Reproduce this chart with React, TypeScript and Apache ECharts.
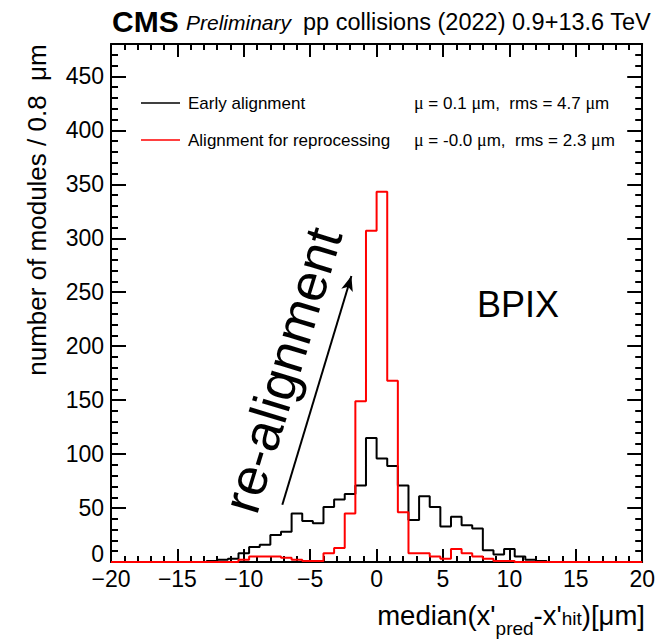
import React, { useEffect, useRef } from "react";
import * as echarts from "echarts";

const BIN_MIN = -20;
const BIN_WIDTH = 0.8;
const X_TICKS = [-20, -15, -10, -5, 0, 5, 10, 15, 20];
const Y_TICKS = [0, 50, 100, 150, 200, 250, 300, 350, 400, 450];

const earlyAlignment = [
  0, 0, 0, 0, 0, 0, 0, 0, 0, 1,
  2, 3, 8, 14, 16, 25, 28, 45, 38, 36,
  51, 58, 63, 71, 115, 96, 89, 71, 39, 61,
  51, 33, 42, 34, 31, 11, 7, 12, 5, 2,
  1, 0, 0, 0, 0, 0, 0, 0, 0, 0,
];
const reprocessing = [
  0, 0, 0, 0, 0, 0, 0, 0, 0, 0,
  0, 0, 2, 5, 5, 5, 4, 2, 1, 1,
  8, 13, 45, 149, 307, 343, 168, 46, 8, 8,
  5, 3, 12, 8, 5, 3, 1, 1, 0, 0,
  0, 0, 0, 0, 0, 0, 0, 0, 0, 0,
];
const arrowStart = [-7.1, 53];
const arrowEnd = [-1.9, 265];

const FONT = "'Liberation Sans', Arial, Helvetica, sans-serif";
const SERIF = "'Liberation Serif', 'DejaVu Serif', serif";

function toSteps(values: number[]) {
  const pts: [number, number][] = values.map((v, k) => [BIN_MIN + BIN_WIDTH * k, v]);
  pts.push([BIN_MIN + BIN_WIDTH * values.length, values[values.length - 1]]);
  return pts;
}

export default function App() {
  const ref = useRef<HTMLDivElement>(null);
  useEffect(() => {
    if (!ref.current) return;
    const chart = echarts.init(ref.current, null, { renderer: "svg" });
    const axisCommon = {
      axisLine: { show: true, onZero: false, lineStyle: { color: "#000", width: 2 } },
      splitLine: { show: false },
    };
    const xMin = X_TICKS[0];
    const xMax = X_TICKS[X_TICKS.length - 1];
    const mu = { fontFamily: SERIF, fontSize: 18 };
    chart.setOption({
      animation: false,
      backgroundColor: "#fff",
      grid: { left: 111, right: 14, top: 44, bottom: 79, containLabel: false },
      xAxis: [
        {
          type: "value", min: xMin, max: xMax, interval: 5, position: "bottom",
          ...axisCommon,
          axisTick: { show: true, inside: true, length: 13, lineStyle: { color: "#000", width: 2 } },
          minorTick: { show: true, splitNumber: 5, length: 6, lineStyle: { color: "#000", width: 2 } },
          axisLabel: {
            color: "#000", fontSize: 23, fontFamily: FONT, margin: 5,
            formatter: (v: number) => (v < 0 ? "\u2212" + Math.abs(v) : String(v)),
          },
        },
        {
          type: "value", min: xMin, max: xMax, interval: 5, position: "top",
          ...axisCommon,
          axisTick: { show: true, inside: true, length: 13, lineStyle: { color: "#000", width: 2 } },
          minorTick: { show: true, splitNumber: 5, length: 6, lineStyle: { color: "#000", width: 2 } },
          axisLabel: { show: false },
        },
      ],
      yAxis: [
        {
          type: "value", min: 0, max: 480, interval: 50, position: "left",
          ...axisCommon,
          axisTick: { show: true, inside: true, length: 15, lineStyle: { color: "#000", width: 2 } },
          minorTick: { show: true, splitNumber: 5, length: 7, lineStyle: { color: "#000", width: 2 } },
          axisLabel: {
            color: "#000", fontSize: 23, fontFamily: FONT, margin: 7, showMaxLabel: false,
            formatter: (v: number) => (v === 0 ? "{z|0}" : Y_TICKS.includes(v) ? String(v) : ""),
            rich: { z: { fontSize: 23, fontFamily: FONT, color: "#000", padding: [0, 0, 16, 0] } },
          },
        },
        {
          type: "value", min: 0, max: 480, interval: 50, position: "right",
          ...axisCommon,
          axisTick: { show: true, inside: true, length: 15, lineStyle: { color: "#000", width: 2 } },
          minorTick: { show: true, splitNumber: 5, length: 7, lineStyle: { color: "#000", width: 2 } },
          axisLabel: { show: false },
        },
      ],
      series: [
        {
          name: "Early alignment", type: "line", step: "end", xAxisIndex: 0, yAxisIndex: 0,
          data: toSteps(earlyAlignment), symbol: "none",
          lineStyle: { color: "#000", width: 2 },
          markLine: {
            silent: true, symbol: ["none", "arrow"], symbolSize: [9, 15],
            label: { show: false },
            lineStyle: { color: "#000", width: 2, type: "solid" },
            data: [[{ coord: arrowStart }, { coord: arrowEnd }]],
          },
        },
        {
          name: "Alignment for reprocessing", type: "line", step: "end", xAxisIndex: 0, yAxisIndex: 0,
          data: toSteps(reprocessing), symbol: "none",
          lineStyle: { color: "#ff0000", width: 2 },
        },
      ],
      graphic: [
        { type: "text", x: 112, y: 21, style: { text: "CMS", font: `bold 30px ${FONT}`, fill: "#000", verticalAlign: "middle" } },
        { type: "text", x: 186, y: 22, style: { text: "Preliminary", font: `italic 21px ${FONT}`, fill: "#000", verticalAlign: "middle" } },
        { type: "text", x: 303, y: 22, style: { text: "pp collisions (2022) 0.9+13.6 TeV", font: `23.5px ${FONT}`, fill: "#000", verticalAlign: "middle" } },
        { type: "line", shape: { x1: 141, y1: 103, x2: 180, y2: 103 }, style: { stroke: "#000", lineWidth: 1.5 } },
        { type: "line", shape: { x1: 141, y1: 140, x2: 180, y2: 140 }, style: { stroke: "#ff0000", lineWidth: 1.5 } },
        { type: "text", x: 188, y: 103, style: { text: "Early alignment", font: `17px ${FONT}`, fill: "#000", verticalAlign: "middle" } },
        { type: "text", x: 188, y: 140, style: { text: "Alignment for reprocessing", font: `17px ${FONT}`, fill: "#000", verticalAlign: "middle" } },
        {
          type: "text", x: 414, y: 103,
          style: {
            text: "{m|\u03bc} = 0.1 {m|\u03bc}m,  rms = 4.7 {m|\u03bc}m",
            font: `17px ${FONT}`, fill: "#000", verticalAlign: "middle", rich: { m: mu },
          },
        },
        {
          type: "text", x: 414, y: 140,
          style: {
            text: "{m|\u03bc} = -0.0 {m|\u03bc}m,  rms = 2.3 {m|\u03bc}m",
            font: `17px ${FONT}`, fill: "#000", verticalAlign: "middle", rich: { m: mu },
          },
        },
        { type: "text", x: 477, y: 304, style: { text: "BPIX", font: `36px ${FONT}`, fill: "#000", verticalAlign: "middle" } },
        {
          type: "text", x: 282, y: 370, rotation: (73 * Math.PI) / 180,
          style: { text: "re-alignment", font: `53px ${FONT}`, fill: "#000", align: "center", verticalAlign: "middle" },
        },
        {
          type: "text", x: 37, y: 210, rotation: Math.PI / 2,
          style: { text: "number of modules / 0.8  \u03bcm", font: `26px ${FONT}`, fill: "#000", align: "center", verticalAlign: "middle" },
        },
        {
          type: "text", x: 645, y: 592,
          style: {
            text: "median(x'{p|pred}-x'{h|hit})[\u03bcm]",
            font: `27.5px ${FONT}`, fill: "#000", align: "right", verticalAlign: "top",
            rich: {
              p: { fontSize: 19, fontFamily: FONT, verticalAlign: "bottom", lineHeight: 46, padding: [0, 0, 0, 0] },
              h: { fontSize: 19, fontFamily: FONT, verticalAlign: "bottom", lineHeight: 46, padding: [0, 0, 10, 0] },
            },
          },
        },
      ],
    });
    return () => chart.dispose();
  }, []);
  return <div ref={ref} style={{ position: "fixed", left: 0, top: 0, width: 658, height: 641 }} />;
}
